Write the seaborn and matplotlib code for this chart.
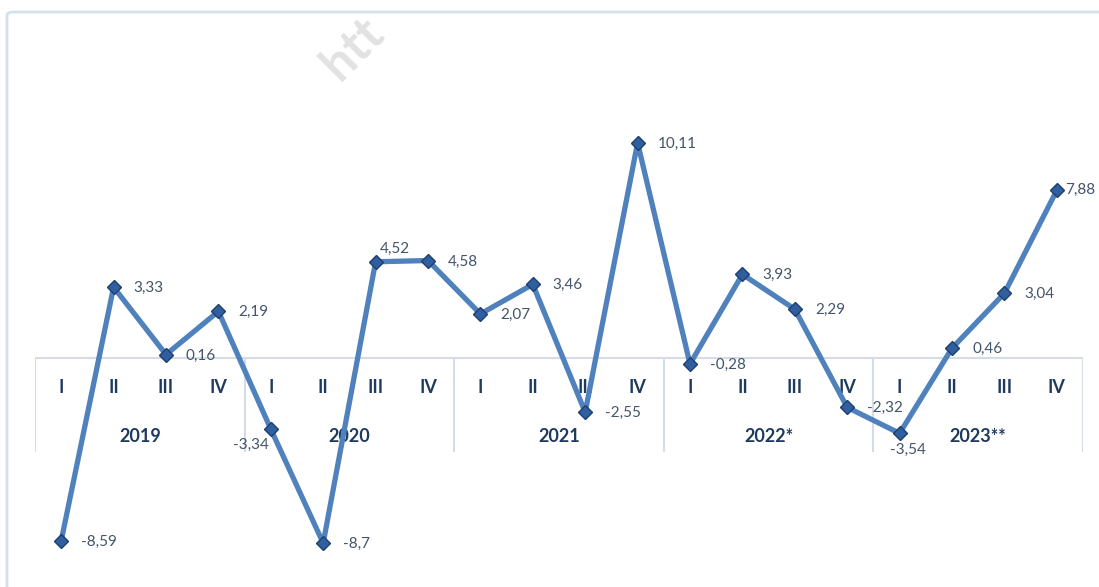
import numpy as np
import pandas as pd
import matplotlib
matplotlib.use("Agg")
import matplotlib.pyplot as plt
from matplotlib.patches import FancyBboxPatch
import seaborn as sns

# --- data ---
years = ["2019", "2020", "2021", "2022*", "2023**"]
quarters = ["I", "II", "III", "IV"]
values = [-8.59, 3.33, 0.16, 2.19,
          -3.34, -8.7, 4.52, 4.58,
          2.07, 3.46, -2.55, 10.11,
          -0.28, 3.93, 2.29, -2.32,
          -3.54, 0.46, 3.04, 7.88]

df = pd.DataFrame({"pos": np.arange(len(values)), "value": values})

sns.set_style("white")
plt.rcParams["font.family"] = ["Lato", "DejaVu Sans"]

W, H = 1099, 587
fig = plt.figure(figsize=(W / 100, H / 100), dpi=100)

# light blue outer frame (Excel chart area)
frame = FancyBboxPatch((7 / W, -0.05), 1.1, 1.05 - 12 / H,
                       boxstyle="round,pad=0,rounding_size=0.006",
                       transform=fig.transFigure, fill=False,
                       edgecolor="#D3E0EE", linewidth=2)
fig.patches.append(frame)

# watermark near the top edge
fig.text(340 / W, 1 - 82 / H, "htt", rotation=45, rotation_mode="anchor",
         ha="left", va="baseline", fontsize=36, fontweight="bold",
         color="#E2E2E2")

ax = fig.add_axes([35 / W, 0, 1048 / W, 1])
ax.patch.set_alpha(0)
ax.set_xlim(-0.5, 19.5)
ax.set_ylim(-10.76, 16.82)
ax.axis("off")

# category table under the zero line
grid_c = "#D3DCE7"
ax.plot([-0.5, 19.5], [0, 0], color=grid_c, lw=1.5, zorder=1)
ax.vlines(np.arange(-0.5, 20, 4), -4.42, 0, color=grid_c, lw=1.5, zorder=1)
cat_c = "#1F3A5F"
for i in range(len(values)):
    ax.text(i, -1.41, quarters[i % 4], ha="center", va="center",
            fontsize=13, fontweight="bold", color=cat_c, zorder=2)
for j, y in enumerate(years):
    ax.text(j * 4 + 1.5, -3.67, y, ha="center", va="center",
            fontsize=13, fontweight="bold", color=cat_c, zorder=2)

sns.lineplot(data=df, x="pos", y="value", ax=ax, color="#4F81BD",
             linewidth=3.8, marker="D", markersize=7.5,
             markerfacecolor="#2F5F9E", markeredgecolor="#1F3F6F",
             markeredgewidth=1, zorder=3)
ax.set_xlabel("")
ax.set_ylabel("")

# data labels: mostly to the right, a few special placements
offsets = {6: (4, 13, "left"), 4: (-20, -16, "center"),
           16: (8, -17, "center"), 19: (8, 0, "left")}
for i, v in enumerate(values):
    dx, dy, ha = offsets.get(i, (20, -1, "left"))
    ax.annotate(f"{v:g}".replace(".", ","), (i, v), xytext=(dx * 0.72, dy * 0.72),
                textcoords="offset points", ha=ha, va="center",
                fontsize=11, color="#44546A", zorder=4, annotation_clip=False)

fig.savefig("out.png", dpi=100)
